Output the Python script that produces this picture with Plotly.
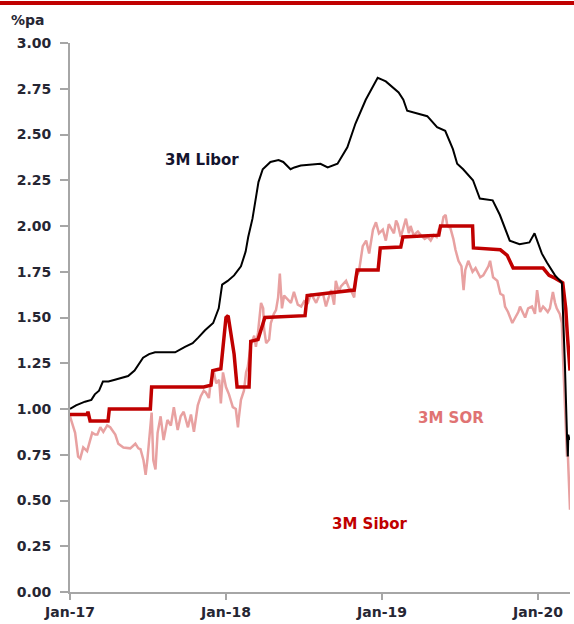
import plotly.graph_objects as go

# 3M USD Libor, %pa
libor_dates = [
    "2017-01-01", "2017-01-15", "2017-02-05", "2017-02-20", "2017-02-28", "2017-03-10",
    "2017-03-19", "2017-04-01", "2017-04-16", "2017-05-01", "2017-05-17", "2017-06-01",
    "2017-06-10", "2017-06-21", "2017-07-05", "2017-07-19", "2017-08-10", "2017-09-04",
    "2017-09-27", "2017-10-15", "2017-10-28", "2017-11-13", "2017-12-02", "2017-12-15",
    "2017-12-23", "2018-01-05", "2018-01-20", "2018-02-05", "2018-02-16", "2018-02-22",
    "2018-03-04", "2018-03-12", "2018-03-18", "2018-03-28", "2018-04-15", "2018-05-04",
    "2018-05-15", "2018-06-01", "2018-06-10", "2018-06-25", "2018-08-03", "2018-08-10",
    "2018-08-27", "2018-09-19", "2018-10-12", "2018-10-31", "2018-11-24", "2018-12-22",
    "2019-01-01", "2019-01-10", "2019-02-09", "2019-02-20", "2019-03-01", "2019-03-15",
    "2019-04-17", "2019-05-10", "2019-05-29", "2019-06-16", "2019-06-26", "2019-07-10",
    "2019-08-02", "2019-08-18", "2019-09-17", "2019-10-04", "2019-10-27", "2019-11-19",
    "2019-12-12", "2019-12-24", "2020-01-10", "2020-01-22", "2020-02-10", "2020-02-26",
    "2020-03-01", "2020-03-04", "2020-03-09", "2020-03-11", "2020-03-12", "2020-03-15",
]
libor_values = [
    1.00, 1.02, 1.04, 1.05, 1.08, 1.10,
    1.15, 1.15, 1.16, 1.17, 1.18, 1.21,
    1.24, 1.28, 1.30, 1.31, 1.31, 1.31,
    1.34, 1.36, 1.39, 1.43, 1.47, 1.55,
    1.68, 1.70, 1.73, 1.78, 1.86, 1.94,
    2.04, 2.15, 2.24, 2.31, 2.35, 2.36,
    2.35, 2.31, 2.32, 2.33, 2.34, 2.34,
    2.32, 2.34, 2.43, 2.56, 2.69, 2.81,
    2.80, 2.79, 2.73, 2.69, 2.63, 2.62,
    2.60, 2.54, 2.52, 2.42, 2.34, 2.31,
    2.25, 2.15, 2.14, 2.06, 1.92, 1.90,
    1.91, 1.96, 1.85, 1.80, 1.73, 1.69,
    1.45, 1.25, 0.85, 0.74, 0.86, 0.83,
]

# 3M SGD Sibor, %pa
sibor_dates = [
    "2017-01-01", "2017-02-10", "2017-02-12", "2017-02-17", "2017-03-31", "2017-04-03",
    "2017-07-08", "2017-07-11", "2017-11-10", "2017-11-27", "2017-12-01", "2017-12-20",
    "2018-01-01", "2018-01-06", "2018-01-20", "2018-01-27", "2018-02-24", "2018-02-28",
    "2018-03-17", "2018-03-26", "2018-04-02", "2018-07-05", "2018-07-10", "2018-10-28",
    "2018-11-04", "2018-12-23", "2018-12-28", "2019-02-14", "2019-02-19", "2019-05-14",
    "2019-05-18", "2019-08-01", "2019-08-03", "2019-10-05", "2019-10-21", "2019-11-04",
    "2020-01-13", "2020-01-27", "2020-02-10", "2020-02-28", "2020-03-06", "2020-03-10",
    "2020-03-16",
]
sibor_values = [
    0.97, 0.97, 0.985, 0.935, 0.935, 1.00,
    1.00, 1.12, 1.12, 1.13, 1.21, 1.22,
    1.50, 1.51, 1.30, 1.12, 1.12, 1.37,
    1.38, 1.44, 1.50, 1.51, 1.62, 1.65,
    1.76, 1.76, 1.88, 1.885, 1.94, 1.95,
    2.00, 2.00, 1.88, 1.87, 1.84, 1.77,
    1.77, 1.73, 1.715, 1.69, 1.55, 1.40,
    1.21,
]

# 3M SGD SOR, %pa
sor_dates = [
    "2017-01-01", "2017-01-13", "2017-01-20", "2017-01-25", "2017-02-01", "2017-02-10",
    "2017-02-22", "2017-03-01", "2017-03-06", "2017-03-13", "2017-03-20", "2017-03-29",
    "2017-04-05", "2017-04-10", "2017-04-17", "2017-04-24", "2017-05-06", "2017-05-22",
    "2017-06-03", "2017-06-10", "2017-06-15", "2017-06-22", "2017-06-27", "2017-07-01",
    "2017-07-04", "2017-07-08", "2017-07-11", "2017-07-15", "2017-07-20", "2017-07-25",
    "2017-08-01", "2017-08-08", "2017-08-17", "2017-08-25", "2017-09-01", "2017-09-10",
    "2017-09-17", "2017-09-24", "2017-10-04", "2017-10-11", "2017-10-18", "2017-10-27",
    "2017-11-03", "2017-11-10", "2017-11-15", "2017-11-22", "2017-11-27", "2017-12-04",
    "2017-12-09", "2017-12-16", "2017-12-20", "2017-12-25",
    "2018-01-01", "2018-01-08", "2018-01-17", "2018-01-24", "2018-01-29", "2018-01-31",
    "2018-02-05", "2018-02-12", "2018-02-17", "2018-02-21", "2018-02-28", "2018-03-08",
    "2018-03-12", "2018-03-17", "2018-03-24", "2018-03-29", "2018-03-31", "2018-04-05",
    "2018-04-12", "2018-04-16", "2018-04-23", "2018-04-28", "2018-05-03", "2018-05-07",
    "2018-05-12", "2018-05-17", "2018-05-26", "2018-06-02", "2018-06-09", "2018-06-18",
    "2018-06-26", "2018-07-03", "2018-07-12", "2018-07-19", "2018-07-31", "2018-08-07",
    "2018-08-16", "2018-08-23", "2018-08-28", "2018-09-04", "2018-09-11", "2018-09-15",
    "2018-09-22", "2018-09-27", "2018-10-09", "2018-10-16", "2018-10-20", "2018-10-28",
    "2018-11-01", "2018-11-08", "2018-11-17", "2018-11-25", "2018-12-02", "2018-12-11",
    "2018-12-18", "2018-12-25",
    "2019-01-03", "2019-01-10", "2019-01-17", "2019-01-22", "2019-01-29", "2019-02-03",
    "2019-02-07", "2019-02-14", "2019-02-21", "2019-02-26", "2019-03-05", "2019-03-09",
    "2019-03-16", "2019-03-26", "2019-04-02", "2019-04-11", "2019-04-18", "2019-04-25",
    "2019-05-02", "2019-05-09", "2019-05-14", "2019-05-21", "2019-05-25", "2019-05-30",
    "2019-06-03", "2019-06-10", "2019-06-17", "2019-06-22", "2019-06-29", "2019-07-06",
    "2019-07-11", "2019-07-15", "2019-07-22", "2019-08-01", "2019-08-08", "2019-08-15",
    "2019-08-19", "2019-08-26", "2019-08-31", "2019-09-07", "2019-09-11", "2019-09-18",
    "2019-09-28", "2019-10-05", "2019-10-12", "2019-10-16", "2019-10-23", "2019-11-02",
    "2019-11-09", "2019-11-16", "2019-11-20", "2019-11-27", "2019-12-02", "2019-12-09",
    "2019-12-18", "2019-12-25", "2019-12-30",
    "2020-01-06", "2020-01-13", "2020-01-17", "2020-01-24", "2020-01-29", "2020-02-05",
    "2020-02-10", "2020-02-14", "2020-02-21", "2020-02-26", "2020-02-28", "2020-03-04",
    "2020-03-09", "2020-03-11", "2020-03-13", "2020-03-16",
]
sor_values = [
    0.96, 0.87, 0.74, 0.73, 0.79, 0.77,
    0.87, 0.86, 0.86, 0.90, 0.875, 0.91,
    0.90, 0.885, 0.86, 0.81, 0.79, 0.785,
    0.81, 0.785, 0.78, 0.72, 0.64, 0.72,
    0.79, 0.92, 0.98, 0.72, 0.67, 0.87,
    0.96, 0.83, 0.94, 0.91, 1.01, 0.885,
    0.96, 0.985, 0.90, 0.97, 0.875, 1.02,
    1.07, 1.10, 1.09, 1.06, 1.16, 1.20,
    1.14, 1.16, 1.03, 1.20,
    1.12, 1.08, 1.01, 1.00, 0.90, 0.95,
    1.05, 1.10, 1.20, 1.23, 1.35, 1.40,
    1.34, 1.42, 1.58, 1.55, 1.44, 1.36,
    1.38, 1.47, 1.52, 1.54, 1.61, 1.74,
    1.55, 1.62, 1.60, 1.58, 1.64, 1.57,
    1.56, 1.59, 1.58, 1.63, 1.58, 1.62,
    1.63, 1.56, 1.60, 1.65, 1.57, 1.70,
    1.64, 1.67, 1.70, 1.66, 1.65, 1.61,
    1.72, 1.75, 1.89, 1.92, 1.85, 1.98,
    2.02, 1.96,
    1.98, 1.92, 2.01, 1.99, 1.96, 2.03,
    2.01, 1.94, 2.00, 2.04, 1.96, 2.00,
    1.95, 1.97, 1.95, 1.93, 1.94, 1.92,
    1.95, 1.94, 1.98, 2.00, 2.05, 2.06,
    2.00, 1.99, 1.93, 1.87, 1.81, 1.78,
    1.65, 1.76, 1.81, 1.75, 1.77, 1.74,
    1.72, 1.73, 1.75, 1.78, 1.81, 1.72,
    1.70, 1.63, 1.62, 1.56, 1.53, 1.47,
    1.50, 1.53, 1.56, 1.52, 1.50, 1.55,
    1.56, 1.52, 1.65,
    1.53, 1.56, 1.55, 1.53, 1.55, 1.64,
    1.58, 1.55, 1.52, 1.47, 1.32, 1.02,
    0.74, 0.75, 0.60, 0.45,
]

tick_dates = ["2017-01-01", "2018-01-01", "2019-01-01", "2020-01-01"]
tick_labels = ["Jan-17", "Jan-18", "Jan-19", "Jan-20"]
y_ticks = [0, 0.25, 0.5, 0.75, 1.0, 1.25, 1.5, 1.75, 2.0, 2.25, 2.5, 2.75, 3.0]

FONT = "DejaVu Sans"
TEXT = "#262633"
AXIS = "#A6A6A6"

fig = go.Figure()
fig.add_trace(go.Scatter(x=sor_dates, y=sor_values, mode="lines",
                         line=dict(color="#E8A1A1", width=2.5), name="3M SOR"))
fig.add_trace(go.Scatter(x=sibor_dates, y=sibor_values, mode="lines",
                         line=dict(color="#C00000", width=3.5), name="3M Sibor"))
fig.add_trace(go.Scatter(x=libor_dates, y=libor_values, mode="lines",
                         line=dict(color="#000000", width=2), name="3M Libor"))

fig.update_layout(
    width=574, height=624,
    margin=dict(l=70, r=4, t=43, b=32),
    paper_bgcolor="white", plot_bgcolor="white",
    showlegend=False,
    font=dict(family=FONT, size=14, color=TEXT, weight="bold"),
)
fig.update_xaxes(
    type="date", range=["2017-01-01", "2020-03-16"],
    tickvals=tick_dates, ticktext=tick_labels,
    showline=True, linecolor=AXIS, linewidth=2,
    ticks="outside", ticklen=6, tickcolor=AXIS, tickwidth=1.5,
    showgrid=False, zeroline=False,
    tickfont=dict(family=FONT, size=14, color=TEXT, weight="bold"),
)
fig.update_yaxes(
    range=[0, 3], tickvals=y_ticks, tickformat=".2f",
    showline=True, linecolor=AXIS, linewidth=2,
    ticks="outside", ticklen=8, tickcolor=AXIS, tickwidth=1.5,
    ticklabelstandoff=6,
    showgrid=False, zeroline=False,
    tickfont=dict(family=FONT, size=14, color=TEXT, weight="bold"),
)

# red rule across the top of the page
fig.add_shape(type="line", xref="paper", yref="paper",
              x0=-0.14, x1=1.01, y0=1.073, y1=1.073,
              line=dict(color="#C00000", width=4))

# unit label above the value axis
fig.add_annotation(text="%pa", xref="paper", yref="paper", x=-0.122, y=1.042,
                   xanchor="left", yanchor="middle", showarrow=False,
                   font=dict(family=FONT, size=14, color=TEXT, weight="bold"))

# series labels
fig.add_annotation(text="3M Libor", x="2017-11-05", y=2.36, showarrow=False,
                   font=dict(family=FONT, size=15, color="#14142E", weight="bold"))
fig.add_annotation(text="3M SOR", x="2019-06-12", y=0.95, showarrow=False,
                   font=dict(family=FONT, size=15, color="#E07373", weight="bold"))
fig.add_annotation(text="3M Sibor", x="2018-12-03", y=0.37, showarrow=False,
                   font=dict(family=FONT, size=15, color="#C00000", weight="bold"))

fig.write_html("out.html")
